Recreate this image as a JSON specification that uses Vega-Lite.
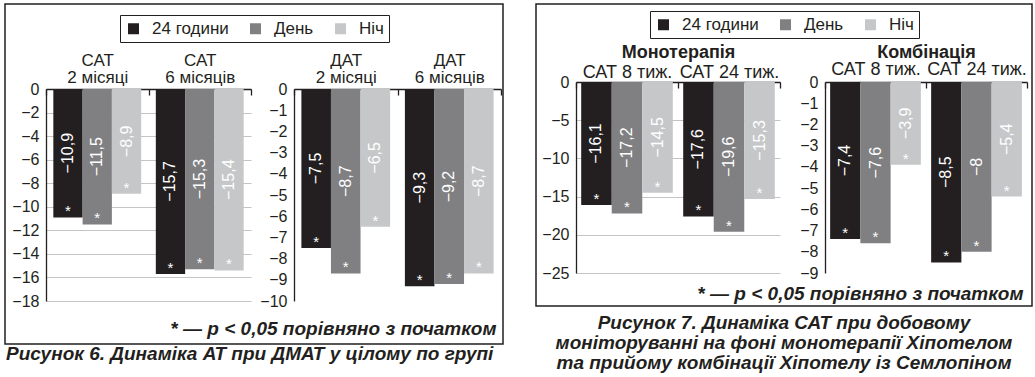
{
  "$schema": "https://vega.github.io/schema/vega-lite/v6.json",
  "background": "white",
  "padding": {"left": 4, "top": 3, "right": 0, "bottom": 0},
  "config": {
    "locale": {"number": {"decimal": ",", "thousands": " ", "grouping": [3], "currency": ["", ""], "minus": "−"}},
    "font": "Liberation Sans",
    "axis": {"labelFont": "Liberation Sans", "labelFontSize": 16, "labelColor": "#231f20", "domainColor": "#231f20", "domainWidth": 1.3, "tickColor": "#231f20", "tickWidth": 1.3, "gridColor": "#c4c4c4", "gridWidth": 1, "titleFont": "Liberation Sans", "titleColor": "#231f20"},
    "axisY": {"ticks": false, "labelPadding": 7, "grid": true},
    "title": {"font": "Liberation Sans", "color": "#231f20"},
    "legend": {"orient": "none", "direction": "horizontal", "title": null, "symbolType": "square", "symbolSize": 121, "symbolStrokeWidth": 0, "labelFontSize": 17, "labelFont": "Liberation Sans", "labelColor": "#231f20", "labelOffset": 10, "columnPadding": 18, "padding": 5, "strokeColor": "#231f20", "labelLimit": 200}
  },
  "datasets": {
    "bars": [
      {"figure": "6", "panel": "САТ", "group": "САТ 2 місяці", "series": "24 години", "value": -10.9, "sig": true},
      {"figure": "6", "panel": "САТ", "group": "САТ 2 місяці", "series": "День", "value": -11.5, "sig": true},
      {"figure": "6", "panel": "САТ", "group": "САТ 2 місяці", "series": "Ніч", "value": -8.9, "sig": true},
      {"figure": "6", "panel": "САТ", "group": "САТ 6 місяців", "series": "24 години", "value": -15.7, "sig": true},
      {"figure": "6", "panel": "САТ", "group": "САТ 6 місяців", "series": "День", "value": -15.3, "sig": true},
      {"figure": "6", "panel": "САТ", "group": "САТ 6 місяців", "series": "Ніч", "value": -15.4, "sig": true},
      {"figure": "6", "panel": "ДАТ", "group": "ДАТ 2 місяці", "series": "24 години", "value": -7.5, "sig": true},
      {"figure": "6", "panel": "ДАТ", "group": "ДАТ 2 місяці", "series": "День", "value": -8.7, "sig": true},
      {"figure": "6", "panel": "ДАТ", "group": "ДАТ 2 місяці", "series": "Ніч", "value": -6.5, "sig": true},
      {"figure": "6", "panel": "ДАТ", "group": "ДАТ 6 місяців", "series": "24 години", "value": -9.3, "sig": true},
      {"figure": "6", "panel": "ДАТ", "group": "ДАТ 6 місяців", "series": "День", "value": -9.2, "sig": true},
      {"figure": "6", "panel": "ДАТ", "group": "ДАТ 6 місяців", "series": "Ніч", "value": -8.7, "sig": true},
      {"figure": "7", "panel": "Монотерапія", "group": "САТ 8 тиж.", "series": "24 години", "value": -16.1, "sig": true},
      {"figure": "7", "panel": "Монотерапія", "group": "САТ 8 тиж.", "series": "День", "value": -17.2, "sig": true},
      {"figure": "7", "panel": "Монотерапія", "group": "САТ 8 тиж.", "series": "Ніч", "value": -14.5, "sig": true},
      {"figure": "7", "panel": "Монотерапія", "group": "САТ 24 тиж.", "series": "24 години", "value": -17.6, "sig": true},
      {"figure": "7", "panel": "Монотерапія", "group": "САТ 24 тиж.", "series": "День", "value": -19.6, "sig": true},
      {"figure": "7", "panel": "Монотерапія", "group": "САТ 24 тиж.", "series": "Ніч", "value": -15.3, "sig": true},
      {"figure": "7", "panel": "Комбінація", "group": "САТ 8 тиж.", "series": "24 години", "value": -7.4, "sig": true},
      {"figure": "7", "panel": "Комбінація", "group": "САТ 8 тиж.", "series": "День", "value": -7.6, "sig": true},
      {"figure": "7", "panel": "Комбінація", "group": "САТ 8 тиж.", "series": "Ніч", "value": -3.9, "sig": true},
      {"figure": "7", "panel": "Комбінація", "group": "САТ 24 тиж.", "series": "24 години", "value": -8.5, "sig": true},
      {"figure": "7", "panel": "Комбінація", "group": "САТ 24 тиж.", "series": "День", "value": -8, "sig": true},
      {"figure": "7", "panel": "Комбінація", "group": "САТ 24 тиж.", "series": "Ніч", "value": -5.4, "sig": true}
    ]
  },
  "data": {"name": "bars"},
  "spacing": 31,
  "resolve": {"legend": {"color": "independent"}},
  "hconcat": [
    {
      "width": 498, "height": 340,
      "view": {"stroke": "#231f20", "strokeWidth": 1.5},
      "title": {"text": "Рисунок 6.  Динаміка АТ при ДМАТ у цілому по групі", "orient": "bottom", "anchor": "start", "fontSize": 19, "fontStyle": "italic", "fontWeight": "bold", "offset": 1, "dx": 1},
      "layer": [
        {
          "transform": [{"filter": "datum.panel === 'САТ'"}],
          "mark": {"type": "bar"},
          "encoding": {
            "x": {"field": "group", "type": "nominal", "sort": null, "title": null, "scale": {"domain": ["САТ 2 місяці", "САТ 6 місяців"], "range": [41, 246], "paddingInner": 0, "paddingOuter": 0},
              "axis": {"orient": "top", "offset": -85, "labelAngle": 0, "tickBand": "extent", "tickSize": -6, "labelPadding": 30, "labelBaseline": "alphabetic", "labelFontSize": 17, "labelLineHeight": 17, "labelExpr": "[slice(datum.label, 0, 3), slice(datum.label, 4)]", "grid": false}},
            "xOffset": {"field": "series", "type": "nominal", "sort": ["24 години", "День", "Ніч"], "scale": {"type": "band", "paddingInner": 0, "paddingOuter": 0.25}},
            "y": {"field": "value", "type": "quantitative", "title": null, "scale": {"domain": [-18, 0], "range": [297, 85], "nice": false}, "axis": {"orient": "left", "offset": -41, "values": [0, -2, -4, -6, -8, -10, -12, -14, -16, -18], "format": "~f"}},
            "color": {"field": "series", "type": "nominal", "sort": ["24 години", "День", "Ніч"], "scale": {"domain": ["24 години", "День", "Ніч"], "range": ["#231f20", "#808083", "#c6c7c9"]}, "legend": {"legendX": 115, "legendY": 11}}
          }
        },
        {
          "transform": [{"filter": "datum.panel === 'САТ'"}],
          "mark": {"type": "text", "angle": 270, "color": "white", "fontSize": 16, "align": "center", "baseline": "middle"},
          "encoding": {
            "x": {"field": "group", "type": "nominal", "sort": null, "scale": {"domain": ["САТ 2 місяці", "САТ 6 місяців"], "range": [41, 246], "paddingInner": 0, "paddingOuter": 0}, "axis": null},
            "xOffset": {"field": "series", "type": "nominal", "sort": ["24 години", "День", "Ніч"], "scale": {"type": "band", "paddingInner": 0, "paddingOuter": 0.25}},
            "y": {"field": "value", "type": "quantitative", "scale": {"domain": [-36, 0], "range": [297, 85], "nice": false}, "axis": null},
            "text": {"field": "value", "type": "quantitative", "format": ".1~f"}
          }
        },
        {
          "transform": [{"filter": "datum.panel === 'САТ' && datum.sig"}],
          "mark": {"type": "text", "text": "*", "color": "white", "fontSize": 15, "dy": -6, "align": "center", "baseline": "middle"},
          "encoding": {
            "x": {"field": "group", "type": "nominal", "sort": null, "scale": {"domain": ["САТ 2 місяці", "САТ 6 місяців"], "range": [41, 246], "paddingInner": 0, "paddingOuter": 0}, "axis": null},
            "xOffset": {"field": "series", "type": "nominal", "sort": ["24 години", "День", "Ніч"], "scale": {"type": "band", "paddingInner": 0, "paddingOuter": 0.25}},
            "y": {"field": "value", "type": "quantitative", "scale": {"domain": [-18, 0], "range": [297, 85], "nice": false}, "axis": null}
          }
        },
        {
          "transform": [{"filter": "datum.panel === 'ДАТ'"}],
          "mark": {"type": "bar"},
          "encoding": {
            "x": {"field": "group", "type": "nominal", "sort": null, "title": null, "scale": {"domain": ["ДАТ 2 місяці", "ДАТ 6 місяців"], "range": [289, 496], "paddingInner": 0, "paddingOuter": 0},
              "axis": {"orient": "top", "offset": -85, "labelAngle": 0, "tickBand": "extent", "tickSize": -6, "labelPadding": 30, "labelBaseline": "alphabetic", "labelFontSize": 17, "labelLineHeight": 17, "labelExpr": "[slice(datum.label, 0, 3), slice(datum.label, 4)]", "grid": false}},
            "xOffset": {"field": "series", "type": "nominal", "sort": ["24 години", "День", "Ніч"], "scale": {"type": "band", "paddingInner": 0, "paddingOuter": 0.25}},
            "y": {"field": "value", "type": "quantitative", "title": null, "scale": {"domain": [-10, 0], "range": [297, 85], "nice": false}, "axis": {"orient": "left", "offset": -289, "values": [0, -1, -2, -3, -4, -5, -6, -7, -8, -9, -10], "format": "~f"}},
            "color": {"field": "series", "type": "nominal", "sort": ["24 години", "День", "Ніч"], "scale": {"domain": ["24 години", "День", "Ніч"], "range": ["#231f20", "#808083", "#c6c7c9"]}, "legend": {"legendX": 115, "legendY": 11}}
          }
        },
        {
          "transform": [{"filter": "datum.panel === 'ДАТ'"}],
          "mark": {"type": "text", "angle": 270, "color": "white", "fontSize": 16, "align": "center", "baseline": "middle"},
          "encoding": {
            "x": {"field": "group", "type": "nominal", "sort": null, "scale": {"domain": ["ДАТ 2 місяці", "ДАТ 6 місяців"], "range": [289, 496], "paddingInner": 0, "paddingOuter": 0}, "axis": null},
            "xOffset": {"field": "series", "type": "nominal", "sort": ["24 години", "День", "Ніч"], "scale": {"type": "band", "paddingInner": 0, "paddingOuter": 0.25}},
            "y": {"field": "value", "type": "quantitative", "scale": {"domain": [-20, 0], "range": [297, 85], "nice": false}, "axis": null},
            "text": {"field": "value", "type": "quantitative", "format": ".1~f"}
          }
        },
        {
          "transform": [{"filter": "datum.panel === 'ДАТ' && datum.sig"}],
          "mark": {"type": "text", "text": "*", "color": "white", "fontSize": 15, "dy": -6, "align": "center", "baseline": "middle"},
          "encoding": {
            "x": {"field": "group", "type": "nominal", "sort": null, "scale": {"domain": ["ДАТ 2 місяці", "ДАТ 6 місяців"], "range": [289, 496], "paddingInner": 0, "paddingOuter": 0},
              "axis": {"orient": "bottom", "offset": -30, "labels": false, "ticks": false, "domain": false, "grid": false, "title": "* — p < 0,05 порівняно з початком", "titleAnchor": "end", "titleAlign": "right", "titleX": 491, "titleFontSize": 19, "titleFontStyle": "italic", "titleFontWeight": "bold", "titlePadding": 5}},
            "xOffset": {"field": "series", "type": "nominal", "sort": ["24 години", "День", "Ніч"], "scale": {"type": "band", "paddingInner": 0, "paddingOuter": 0.25}},
            "y": {"field": "value", "type": "quantitative", "scale": {"domain": [-10, 0], "range": [297, 85], "nice": false}, "axis": null}
          }
        }
      ],
      "resolve": {"scale": {"x": "independent", "y": "independent", "xOffset": "independent"}}
    },
    {
      "width": 496, "height": 302,
      "view": {"stroke": "#231f20", "strokeWidth": 1.5},
      "title": {"text": ["Рисунок 7.  Динаміка САТ при добовому", "моніторуванні на фоні монотерапії Хіпотелом", "та прийому комбінації Хіпотелу із Семлопіном"], "orient": "bottom", "anchor": "middle", "fontSize": 19, "fontStyle": "italic", "fontWeight": "bold", "lineHeight": 20, "offset": 8},
      "layer": [
        {
          "transform": [{"filter": "datum.panel === 'Монотерапія'"}],
          "mark": {"type": "bar"},
          "encoding": {
            "x": {"field": "group", "type": "nominal", "sort": null, "scale": {"domain": ["САТ 8 тиж.", "САТ 24 тиж."], "range": [40, 244], "paddingInner": 0, "paddingOuter": 0},
              "axis": {"orient": "top", "offset": -78, "labelAngle": 0, "tickBand": "extent", "tickSize": -6, "labelPadding": 10.5, "labelBaseline": "alphabetic", "labelFontSize": 18, "grid": false, "title": "Монотерапія", "titleFontSize": 18, "titleFontWeight": "bold", "titlePadding": 2}},
            "xOffset": {"field": "series", "type": "nominal", "sort": ["24 години", "День", "Ніч"], "scale": {"type": "band", "paddingInner": 0, "paddingOuter": 0.17}},
            "y": {"field": "value", "type": "quantitative", "title": null, "scale": {"domain": [-25, 0], "range": [269, 78], "nice": false}, "axis": {"orient": "left", "offset": -40, "values": [0, -5, -10, -15, -20, -25], "format": "~f"}},
            "color": {"field": "series", "type": "nominal", "sort": ["24 години", "День", "Ніч"], "scale": {"domain": ["24 години", "День", "Ніч"], "range": ["#231f20", "#808083", "#c6c7c9"]}, "legend": {"legendX": 114, "legendY": 7}}
          }
        },
        {
          "transform": [{"filter": "datum.panel === 'Монотерапія'"}],
          "mark": {"type": "text", "angle": 270, "color": "white", "fontSize": 16, "align": "center", "baseline": "middle"},
          "encoding": {
            "x": {"field": "group", "type": "nominal", "sort": null, "scale": {"domain": ["САТ 8 тиж.", "САТ 24 тиж."], "range": [40, 244], "paddingInner": 0, "paddingOuter": 0}, "axis": null},
            "xOffset": {"field": "series", "type": "nominal", "sort": ["24 години", "День", "Ніч"], "scale": {"type": "band", "paddingInner": 0, "paddingOuter": 0.17}},
            "y": {"field": "value", "type": "quantitative", "scale": {"domain": [-50, 0], "range": [269, 78], "nice": false}, "axis": null},
            "text": {"field": "value", "type": "quantitative", "format": ".1~f"}
          }
        },
        {
          "transform": [{"filter": "datum.panel === 'Монотерапія' && datum.sig"}],
          "mark": {"type": "text", "text": "*", "color": "white", "fontSize": 15, "dy": -6, "align": "center", "baseline": "middle"},
          "encoding": {
            "x": {"field": "group", "type": "nominal", "sort": null, "scale": {"domain": ["САТ 8 тиж.", "САТ 24 тиж."], "range": [40, 244], "paddingInner": 0, "paddingOuter": 0}, "axis": null},
            "xOffset": {"field": "series", "type": "nominal", "sort": ["24 години", "День", "Ніч"], "scale": {"type": "band", "paddingInner": 0, "paddingOuter": 0.17}},
            "y": {"field": "value", "type": "quantitative", "scale": {"domain": [-25, 0], "range": [269, 78], "nice": false}, "axis": null}
          }
        },
        {
          "transform": [{"filter": "datum.panel === 'Комбінація'"}],
          "mark": {"type": "bar"},
          "encoding": {
            "x": {"field": "group", "type": "nominal", "sort": null, "scale": {"domain": ["САТ 8 тиж.", "САТ 24 тиж."], "range": [289, 491], "paddingInner": 0, "paddingOuter": 0},
              "axis": {"orient": "top", "offset": -78, "labelAngle": 0, "tickBand": "extent", "tickSize": -6, "labelPadding": 13.5, "labelBaseline": "alphabetic", "labelFontSize": 18, "grid": false, "title": "Комбінація", "titleFontSize": 18, "titleFontWeight": "bold", "titlePadding": -1}},
            "xOffset": {"field": "series", "type": "nominal", "sort": ["24 години", "День", "Ніч"], "scale": {"type": "band", "paddingInner": 0, "paddingOuter": 0.17}},
            "y": {"field": "value", "type": "quantitative", "title": null, "scale": {"domain": [-9, 0], "range": [269, 78], "nice": false}, "axis": {"orient": "left", "offset": -289, "values": [0, -1, -2, -3, -4, -5, -6, -7, -8, -9], "format": "~f"}},
            "color": {"field": "series", "type": "nominal", "sort": ["24 години", "День", "Ніч"], "scale": {"domain": ["24 години", "День", "Ніч"], "range": ["#231f20", "#808083", "#c6c7c9"]}, "legend": {"legendX": 114, "legendY": 7}}
          }
        },
        {
          "transform": [{"filter": "datum.panel === 'Комбінація'"}],
          "mark": {"type": "text", "angle": 270, "color": "white", "fontSize": 16, "align": "center", "baseline": "middle"},
          "encoding": {
            "x": {"field": "group", "type": "nominal", "sort": null, "scale": {"domain": ["САТ 8 тиж.", "САТ 24 тиж."], "range": [289, 491], "paddingInner": 0, "paddingOuter": 0}, "axis": null},
            "xOffset": {"field": "series", "type": "nominal", "sort": ["24 години", "День", "Ніч"], "scale": {"type": "band", "paddingInner": 0, "paddingOuter": 0.17}},
            "y": {"field": "value", "type": "quantitative", "scale": {"domain": [-18, 0], "range": [269, 78], "nice": false}, "axis": null},
            "text": {"field": "value", "type": "quantitative", "format": ".1~f"}
          }
        },
        {
          "transform": [{"filter": "datum.panel === 'Комбінація' && datum.sig"}],
          "mark": {"type": "text", "text": "*", "color": "white", "fontSize": 15, "dy": -6, "align": "center", "baseline": "middle"},
          "encoding": {
            "x": {"field": "group", "type": "nominal", "sort": null, "scale": {"domain": ["САТ 8 тиж.", "САТ 24 тиж."], "range": [289, 491], "paddingInner": 0, "paddingOuter": 0},
              "axis": {"orient": "bottom", "offset": -27, "labels": false, "ticks": false, "domain": false, "grid": false, "title": "* — p < 0,05 порівняно з початком", "titleAnchor": "end", "titleAlign": "right", "titleX": 487, "titleFontSize": 19, "titleFontStyle": "italic", "titleFontWeight": "bold", "titlePadding": 5}},
            "xOffset": {"field": "series", "type": "nominal", "sort": ["24 години", "День", "Ніч"], "scale": {"type": "band", "paddingInner": 0, "paddingOuter": 0.17}},
            "y": {"field": "value", "type": "quantitative", "scale": {"domain": [-9, 0], "range": [269, 78], "nice": false}, "axis": null}
          }
        }
      ],
      "resolve": {"scale": {"x": "independent", "y": "independent", "xOffset": "independent"}}
    }
  ]
}
